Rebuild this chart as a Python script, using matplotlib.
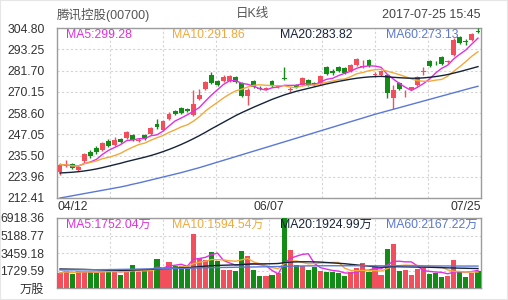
import numpy as np
import pandas as pd
import matplotlib
matplotlib.use('Agg')
from matplotlib import pyplot as plt
from matplotlib.patches import Rectangle

plt.rcParams['font.family'] = ['Liberation Sans', 'Noto Sans CJK SC', 'DejaVu Sans']

# trading days 2017-04-12 .. 2017-07-25 (HKEX)
dates = ['04/12', '04/13', '04/18', '04/19', '04/20', '04/21', '04/24', '04/25', '04/26', '04/27', '04/28',
         '05/02', '05/04', '05/05', '05/08', '05/09', '05/10', '05/11', '05/12', '05/15', '05/16',
         '05/17', '05/18', '05/19', '05/22', '05/23', '05/24', '05/25', '05/26', '05/29', '05/31',
         '06/01', '06/02', '06/05', '06/06', '06/07', '06/08', '06/09', '06/12', '06/13', '06/14',
         '06/15', '06/16', '06/19', '06/20', '06/21', '06/22', '06/23', '06/26', '06/27', '06/28',
         '06/29', '06/30', '07/03', '07/04', '07/05', '07/06', '07/07', '07/10', '07/11', '07/12',
         '07/13', '07/14', '07/17', '07/18', '07/19', '07/20', '07/21', '07/24', '07/25']
shown_dates = ['04/12', '06/07', '07/25']

opens = [226.5, 230.0, 230.7, 227.8, 232.3, 237.4, 239.6, 238.7, 243.6, 241.4,
         244.5, 245.0, 246.8, 243.5, 246.8, 247.2, 252.4, 249.5, 255.5, 259.5,
         261.3, 261.0, 257.3, 266.2, 271.6, 279.0, 276.2, 275.8, 275.8, 278.2,
         274.9, 267.7, 275.8, 272.3, 271.8, 275.8, 272.9, 277.6, 271.0, 274.0,
         274.0, 276.7, 274.6, 274.4, 283.4, 281.6, 283.4, 283.1, 281.2, 284.9,
         283.5, 287.2, 279.2, 279.1, 279.1, 266.8, 274.9, 268.8, 271.8, 274.0,
         280.8, 286.7, 285.9, 288.9, 286.4, 290.3, 299.7, 297.6, 298.5, 303.4]
closes = [230.5, 230.4, 228.7, 229.5, 236.3, 235.0, 237.4, 242.3, 240.5, 244.1,
          242.8, 248.3, 244.1, 243.8, 244.5, 250.5, 250.8, 254.1, 258.0, 258.0,
          258.4, 259.5, 263.5, 268.6, 275.3, 274.9, 274.0, 278.0, 278.5, 275.5,
          267.7, 271.3, 272.5, 271.8, 272.3, 273.6, 273.3, 277.3, 271.5, 272.6,
          277.6, 274.0, 274.3, 278.9, 279.8, 280.3, 281.6, 280.3, 284.5, 288.1,
          284.3, 284.0, 279.6, 281.2, 269.5, 271.3, 271.8, 269.2, 272.5, 278.0,
          281.5, 284.0, 285.6, 285.2, 286.7, 298.5, 296.7, 297.2, 301.5, 302.5]
highs = [231.2, 233.2, 231.2, 230.2, 237.0, 238.5, 240.5, 243.0, 244.6, 245.3,
         245.0, 248.8, 247.3, 245.0, 247.3, 251.0, 255.5, 254.6, 259.3, 260.0,
         261.8, 261.5, 271.3, 271.8, 275.8, 281.0, 276.7, 279.0, 279.0, 278.7,
         275.4, 272.0, 276.5, 273.2, 273.0, 276.3, 274.0, 283.4, 272.5, 274.5,
         278.0, 277.2, 275.5, 279.4, 284.2, 282.3, 284.0, 283.6, 285.0, 288.6,
         287.5, 287.7, 281.0, 281.8, 279.6, 274.0, 275.4, 271.0, 273.0, 278.5,
         283.4, 287.2, 287.0, 289.4, 287.5, 299.5, 300.2, 299.0, 302.0, 304.8]
lows = [225.0, 229.0, 228.0, 227.0, 231.5, 234.0, 236.5, 238.0, 240.0, 240.8,
        242.3, 244.5, 243.6, 242.8, 244.0, 246.8, 250.0, 249.0, 255.0, 257.5,
        258.0, 259.0, 257.0, 265.5, 271.0, 274.5, 273.5, 275.3, 275.3, 275.0,
        267.2, 263.0, 272.0, 271.0, 271.0, 273.0, 272.0, 276.5, 269.8, 272.0,
        273.5, 273.5, 273.2, 274.0, 279.3, 279.5, 281.0, 279.8, 280.8, 284.4,
        283.0, 283.5, 278.0, 278.6, 266.8, 260.8, 271.3, 267.5, 271.2, 273.5,
        279.4, 283.5, 284.8, 284.7, 285.6, 289.5, 296.2, 295.8, 298.0, 302.0]

ma20 = [226.0, 226.2, 226.4, 226.7, 227.1, 227.6, 228.2, 228.9, 229.7, 230.5,
        231.3, 232.2, 233.0, 233.8, 234.6, 235.5, 236.5, 237.6, 238.8, 240.1,
        241.5, 243.0, 244.6, 246.3, 248.1, 250.0, 251.8, 253.6, 255.4, 257.2,
        258.8, 260.3, 261.8, 263.2, 264.6, 266.0, 267.2, 268.4, 269.4, 270.4,
        271.2, 272.0, 272.8, 273.6, 274.4, 275.1, 275.8, 276.4, 277.0, 277.5,
        277.9, 278.2, 278.4, 278.5, 278.3, 278.0, 277.8, 277.6, 277.5, 277.5,
        277.7, 278.0, 278.4, 278.9, 279.5, 280.3, 281.1, 282.0, 282.9, 283.82]
ma60 = [212.41, 213.0, 213.6, 214.2, 214.8, 215.4, 216.0, 216.6, 217.2, 217.8,
        218.4, 219.1, 219.9, 220.6, 221.4, 222.2, 223.0, 223.8, 224.6, 225.4,
        226.2, 227.1, 228.0, 228.9, 229.9, 230.9, 231.9, 232.9, 233.9, 234.9,
        235.9, 236.9, 237.9, 238.9, 239.9, 240.9, 241.9, 242.9, 243.9, 244.9,
        245.9, 246.9, 247.9, 248.9, 249.9, 250.9, 251.9, 252.9, 253.9, 254.9,
        255.9, 256.9, 257.9, 258.8, 259.7, 260.6, 261.5, 262.4, 263.3, 264.2,
        265.1, 266.0, 266.9, 267.8, 268.7, 269.6, 270.5, 271.4, 272.3, 273.13]

volumes = [1482, 1700, 1416, 1647, 1700, 1548, 1482, 1713, 1878, 1600,
           1317, 1812, 2306, 1548, 1812, 1713, 2898, 1878, 2602, 2141,
           2207, 1878, 5370, 2964, 2734, 3524, 2635, 1746, 1746, 1647,
           3690, 3195, 1779, 1219, 1219, 1285, 1449, 6918.36, 3755, 2273,
           2207, 1779, 2108, 1680, 1548, 1548, 1449, 1219, 1548, 2009,
           2437, 1614, 2108, 1285, 3854, 4315, 1680, 1779, 1285, 1878,
           1943, 1350, 1449, 1120, 1150, 2767, 1614, 1120, 1500, 1700]
vol_ma20 = [1880, 1870, 1860, 1850, 1840, 1820, 1800, 1780, 1770, 1760,
            1750, 1760, 1780, 1800, 1820, 1840, 1870, 1900, 1930, 1960,
            1990, 2010, 2060, 2110, 2160, 2200, 2230, 2250, 2270, 2290,
            2320, 2350, 2370, 2380, 2390, 2400, 2420, 2500, 2560, 2580,
            2590, 2590, 2580, 2560, 2520, 2480, 2440, 2400, 2340, 2280,
            2220, 2160, 2100, 2050, 2080, 2110, 2100, 2090, 2080, 2070,
            2060, 2050, 2030, 2010, 1990, 1980, 1960, 1950, 1935, 1924.99]
vol_ma60 = [1780, 1785, 1790, 1795, 1800, 1805, 1810, 1815, 1820, 1830,
            1840, 1850, 1860, 1870, 1880, 1890, 1900, 1910, 1920, 1930,
            1940, 1950, 1970, 1990, 2000, 2010, 2020, 2030, 2040, 2050,
            2060, 2070, 2080, 2090, 2100, 2110, 2120, 2140, 2160, 2170,
            2180, 2185, 2190, 2195, 2200, 2200, 2200, 2200, 2200, 2200,
            2200, 2200, 2195, 2190, 2195, 2200, 2200, 2195, 2190, 2190,
            2185, 2180, 2180, 2175, 2175, 2170, 2170, 2168, 2168, 2167.22]

price_ticks = [212.41, 223.96, 235.50, 247.05, 258.60, 270.15, 281.70, 293.25, 304.80]
vol_ticks = [0, 1729.59, 3459.18, 5188.77, 6918.36]
vol_tick_labels = ['万股', '1729.59', '3459.18', '5188.77', '6918.36']

price_legend = ['MA5:299.28', 'MA10:291.86', 'MA20:283.82', 'MA60:273.13']
vol_legend = ['MA5:1752.04万', 'MA10:1594.54万', 'MA20:1924.99万', 'MA60:2167.22万']
ma_colors = ['#e030e0', '#f2a93b', '#15233a', '#5a78d6']

RED = '#f24e5c'
GREEN = '#128c16'
GRID = '#d4d4d4'
FRAME = '#9c9c9c'
TXT = '#333333'

o = np.array(opens)
c = np.array(closes)
x = np.arange(len(dates))
up = c >= o
cols = np.where(up, RED, GREEN)

close_s = pd.Series(closes)
ma5 = close_s.rolling(5, min_periods=1).mean()
ma10 = close_s.rolling(10, min_periods=1).mean()
vol_s = pd.Series(volumes)
vma5 = vol_s.rolling(5, min_periods=1).mean()
vma10 = vol_s.rolling(10, min_periods=1).mean()

fig = plt.figure(figsize=(5.08, 3.0), dpi=100)
fig.add_artist(Rectangle((0, 0), 1, 1, transform=fig.transFigure, fill=False,
                         edgecolor='#e6e6e6', linewidth=1.5))

ax = fig.add_axes([57 / 508, 1 - 198 / 300, 424 / 508, 170 / 300])
axv = fig.add_axes([57 / 508, 1 - 288 / 300, 424 / 508, 70 / 300])

n = len(dates)
grid_x = np.linspace(-0.5, n - 0.5, 9)[1:-1]


def style(a, yticks, ylabels, ylim):
    a.set_xlim(-0.5, n - 0.5)
    a.set_ylim(*ylim)
    a.set_yticks(yticks)
    a.set_yticklabels(ylabels)
    a.set_xticks(grid_x, minor=True)
    a.grid(which='minor', axis='x', color=GRID, linestyle=(0, (2, 2)), linewidth=0.8)
    a.grid(which='major', axis='y', color=GRID, linestyle=(0, (2, 2)), linewidth=0.8)
    a.set_axisbelow(True)
    a.tick_params(axis='both', which='both', length=0, labelsize=8.8, labelcolor=TXT)
    a.tick_params(axis='y', pad=9)
    for s in a.spines.values():
        s.set_color(FRAME)
        s.set_linewidth(1)


style(ax, price_ticks, ['%.2f' % t for t in price_ticks], (212.41, 304.80))
style(axv, vol_ticks, vol_tick_labels, (0, 6918.36))

# candles
ax.vlines(x, lows, highs, colors=cols, linewidth=1, zorder=3)
body = np.maximum(np.abs(c - o), 0.35)
ax.bar(x, body, bottom=np.minimum(o, c), width=0.8, color=cols, zorder=4)

for ser, col in zip([ma5, ma10, ma20, ma60], ma_colors):
    ax.plot(x, ser, color=col, linewidth=1, zorder=5)

lx = [66, 172, 280, 386]
for t, col, px in zip(price_legend, ma_colors, lx):
    fig.text(px / 508, 1 - 35 / 300, t, color=col, fontsize=8.8, va='center', ha='left')

# x labels of price chart
pos = [dates.index(d) for d in shown_dates]
ax.set_xticks([pos[0] - 0.5, pos[1] - 0.5, pos[2] + 0.5])
ax.set_xticklabels(shown_dates)
lbls = ax.get_xticklabels()
lbls[0].set_ha('left')
lbls[2].set_ha('right')
ax.tick_params(axis='x', pad=2)

# volume
axv.bar(x, volumes, width=0.85, color=cols, zorder=3)
for ser, col in zip([vma5, vma10, vol_ma20, vol_ma60], ma_colors):
    axv.plot(x, ser, color=col, linewidth=1, zorder=4)
axv.set_xticks([])
for t, col, px in zip(vol_legend, ma_colors, lx):
    fig.text(px / 508, 1 - 225 / 300, t, color=col, fontsize=8.8, va='center', ha='left')

# header
fig.text(57 / 508, 1 - 14.5 / 300, '腾讯控股(00700)', color='#555555', fontsize=9, va='center', ha='left')
fig.text(252 / 508, 1 - 14.5 / 300, '日K线', color='#555555', fontsize=9, va='center', ha='center')
fig.text(481 / 508, 1 - 14.5 / 300, '2017-07-25 15:45', color='#444444', fontsize=9, va='center', ha='right')

fig.savefig('out.png', dpi=100)
